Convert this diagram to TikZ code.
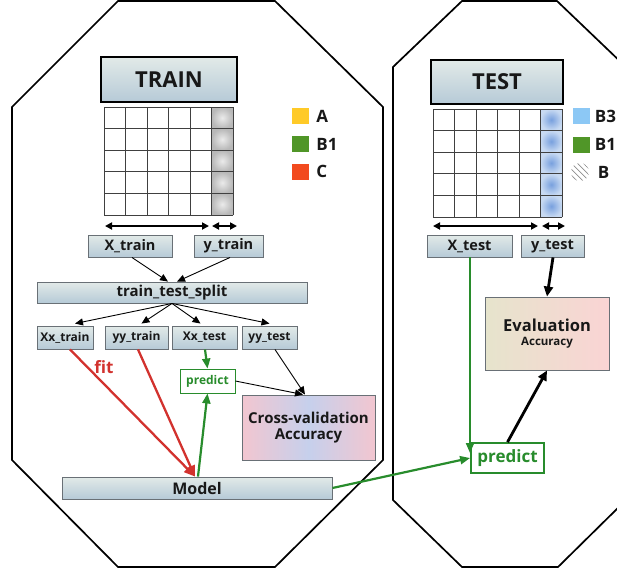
\documentclass[tikz,border=0pt]{standalone}
\usepackage{fontspec}
\setmainfont{Open Sans}
\usetikzlibrary{arrows.meta}

\definecolor{boxtop}{RGB}{226,234,232}
\definecolor{boxbot}{RGB}{182,202,215}
\definecolor{boxline}{RGB}{105,112,118}
\definecolor{inktxt}{RGB}{24,24,24}
\definecolor{fitred}{RGB}{210,50,46}
\definecolor{predgreen}{RGB}{40,140,44}
\definecolor{legyellow}{RGB}{255,202,40}
\definecolor{leggreen}{RGB}{80,150,40}
\definecolor{legred}{RGB}{242,74,30}
\definecolor{legblue}{RGB}{140,200,245}
\definecolor{cvpink}{RGB}{242,198,208}
\definecolor{cvblue}{RGB}{198,208,236}
\definecolor{evleft}{RGB}{230,228,204}
\definecolor{evright}{RGB}{250,212,212}

\newcommand{\fsz}[1]{\fontsize{#1}{#1}\selectfont}

\begin{document}
\begin{tikzpicture}[x=1pt,y=-1pt,
  every node/.style={text=inktxt},
  hdr/.style={draw=black, line width=2.6pt, top color=boxtop, bottom color=boxbot,
    inner sep=0pt, font=\bfseries\fsz{22}},
  databox/.style={draw=boxline, line width=0.9pt, top color=boxtop, bottom color=boxbot,
    inner sep=0pt, font=\bfseries\fsz{14.5}},
  smallbox/.style={databox, font=\bfseries\fsz{12}},
  legsq/.style={minimum width=17pt, minimum height=16pt, inner sep=0pt},
  legtxt/.style={anchor=west, inner sep=0pt, font=\bfseries\fsz{17}},
  gridln/.style={draw=black!75, line width=1pt},
  measure/.style={{Triangle[length=7pt,width=7pt]}-{Triangle[length=7pt,width=7pt]}, line width=1.8pt},
  conn/.style={-{Triangle[length=8pt,width=7pt]}, line width=0.9pt},
  fitarrow/.style={-{Triangle[length=11pt,width=9pt]}, draw=fitred, line width=2.3pt},
  greenarrow/.style={-{Triangle[length=10pt,width=8pt]}, draw=predgreen, line width=2.2pt},
  boldarrow/.style={-{Triangle[length=10pt,width=9pt]}, line width=2.8pt},
  octagon/.style={draw=black, line width=1.7pt}
]
\useasboundingbox (0,0) rectangle (617,571);

% the two octagonal frames (the right one runs past the edge)
\begin{scope}
  \clip (0,0) rectangle (617,571);
  \draw[octagon] (118,1) -- (275,1) -- (383,107) -- (383,460) -- (275,567)
    -- (118,567) -- (12,460) -- (12,107) -- cycle;
  \draw[octagon] (462,1) -- (557,1) -- (626,67) -- (626,500) -- (558,567)
    -- (462,567) -- (393,500) -- (393,67) -- cycle;
\end{scope}

% ---------------- TRAIN side ----------------
\node[hdr, minimum width=136pt, minimum height=45pt] (trainhd) at (169,79.5) {TRAIN};

% label column of the training table
\foreach \r in {0,...,4}
  \shade[inner color=white!92!black, outer color=black!28] (211.5,{107+\r*21.6}) rectangle ++(21.5,21.6);
\foreach \i in {0,...,6}
  \draw[gridln] ({104+\i*21.5},107) -- ++(0,108);
\foreach \j in {0,...,5}
  \draw[gridln] (104,{107+\j*21.6}) -- ++(129,0);

\coordinate (trA) at (105,226);
\coordinate (trB) at (209,226);
\coordinate (trC) at (212,226);
\coordinate (trD) at (237,226);
\draw[measure] (trA) -- (trB);
\draw[measure] (trC) -- (trD);

% legend
\node[legsq, fill=legyellow] (lgA) at (300.5,116) {};
\node[legtxt] at ([xshift=7pt]lgA.east) {A};
\node[legsq, fill=leggreen] (lgB) at (300.5,144) {};
\node[legtxt] at ([xshift=7pt]lgB.east) {B1};
\node[legsq, fill=legred] (lgC) at (300.5,171.5) {};
\node[legtxt] at ([xshift=7pt]lgC.east) {C};

\node[databox, minimum width=84pt, minimum height=22pt] (xtr) at (130,246) {X\_train};
\node[databox, minimum width=69pt, minimum height=22pt] (ytr) at (228.5,246) {y\_train};

\node[databox, minimum width=270pt, minimum height=21pt, font=\bfseries\fsz{15}] (tts) at (172,292.5) {train\_test\_split};

\node[smallbox, minimum width=56pt, minimum height=23pt] (xxtr) at (65,337.5) {Xx\_train};
\node[smallbox, minimum width=63pt, minimum height=23pt] (yytr) at (136.5,337.5) {yy\_train};
\node[smallbox, minimum width=65pt, minimum height=23pt] (xxte) at (204.5,337.5) {Xx\_test};
\node[smallbox, minimum width=55pt, minimum height=23pt] (yyte) at (269.5,337.5) {yy\_test};

\node[draw=predgreen, fill=white, line width=0.9pt, minimum width=55pt, minimum height=24pt,
  inner sep=0pt, text=predgreen, font=\bfseries\fsz{12}] (prs) at (207.5,381) {predict};

\node[draw=boxline, line width=0.9pt, left color=cvpink, right color=cvpink, middle color=cvblue,
  minimum width=133pt, minimum height=65pt, inner sep=0pt, align=center,
  font=\bfseries\fsz{15}] (cv) at (308.5,427.5) {Cross-validation\\[1pt]Accuracy};

\node[databox, minimum width=270pt, minimum height=22pt, font=\bfseries\fsz{16}] (model) at (197,488) {Model};

\node[text=fitred, font=\bfseries\fsz{17}, inner sep=0pt] (fit) at (104,367) {fit};

% connectors of the training side
\draw[conn] ([xshift=2pt]xtr.south) -- ([xshift=-4pt]tts.north);
\draw[conn] ([xshift=1.5pt]ytr.south) -- ([xshift=5pt]tts.north);
\draw[conn] (tts.south) -- ([xshift=10pt,yshift=2pt]xxtr.north);
\draw[conn] (tts.south) -- ([xshift=5pt,yshift=2pt]yytr.north);
\draw[conn] (tts.south) -- ([xshift=-4pt,yshift=2pt]xxte.north);
\draw[conn] (tts.south) -- ([yshift=2pt]yyte.north);
\draw[fitarrow] ([xshift=5pt]xxtr.south) -- ([xshift=-2pt]model.north);
\draw[fitarrow] ([xshift=1.5pt]yytr.south) -- ([xshift=-2pt]model.north);
\draw[greenarrow] ([xshift=0.5pt]xxte.south) -- (prs.north);
\draw[greenarrow] ([xshift=1pt]model.north) -- (prs.south);
\draw[conn] (prs.east) -- ([xshift=-5.5pt]cv.north);
\draw[conn] ([xshift=5.5pt]yyte.south) -- ([xshift=-3.5pt]cv.north);

% ---------------- TEST side ----------------
\node[hdr, minimum width=132pt, minimum height=44pt] (testhd) at (497,82) {TEST};

\foreach \r in {0,...,4}
  \shade[inner color={rgb,255:red,120;green,160;blue,222}, outer color={rgb,255:red,200;green,218;blue,242}]
    (540.5,{109+\r*21.6}) rectangle ++(21.5,21.6);
\foreach \i in {0,...,6}
  \draw[gridln] ({433+\i*21.5},109) -- ++(0,108);
\foreach \j in {0,...,5}
  \draw[gridln] (433,{109+\j*21.6}) -- ++(129,0);

\coordinate (teA) at (433,226);
\coordinate (teB) at (538,226);
\coordinate (teC) at (542,226);
\coordinate (teD) at (565,226);
\draw[measure] (teA) -- (teB);
\draw[measure] (teC) -- (teD);

% legend
\node[legsq, fill=legblue] (lgB3) at (581,116) {};
\node[legtxt] at ([xshift=5pt]lgB3.east) {B3};
\node[legsq, fill=leggreen] (lgB1) at (581,144.5) {};
\node[legtxt] at ([xshift=5pt]lgB1.east) {B1};
\node[legsq] (lgH) at (580,172) {};
\begin{scope}
  \clip (580,172) circle (9);
  \foreach \k in {-12,-9,...,12}
    \draw[black!45, line width=0.7pt] ({570+\k},{162-\k}) -- ++(22,22);
\end{scope}
\node[legtxt] at ([xshift=9pt]lgH.east) {B};

\node[databox, minimum width=85pt, minimum height=22pt] (xte) at (469.5,246) {X\_test};
\node[databox, minimum width=63pt, minimum height=22pt] (yte) at (552.5,246) {y\_test};

\node[draw=boxline, line width=0.9pt, left color=evleft, right color=evright,
  minimum width=124pt, minimum height=73pt, inner sep=0pt, align=center]
  (ev) at (547,333.5) {{\bfseries\fsz{16.5}Evaluation}\\[2pt]{\bfseries\fsz{11.5}Accuracy}};

\node[draw=predgreen, fill=white, line width=1.8pt, minimum width=73pt, minimum height=30pt,
  inner sep=0pt, text=predgreen, font=\bfseries\fsz{17}] (pt) at (507.5,458) {predict};

% drop point of the X_test line, at the predict box's upper left corner
\coordinate (xdrop) at (470,453);

% connectors of the test side
\draw[greenarrow, line width=2pt] (xte.south -| xdrop) -- (xdrop);
\draw[greenarrow] (model.east) -- (pt.west);
\draw[boldarrow] ([xshift=0.5pt]yte.south) -- (ev.north);
\draw[boldarrow] (pt.north) -- (ev.south);
\end{tikzpicture}
\end{document}
